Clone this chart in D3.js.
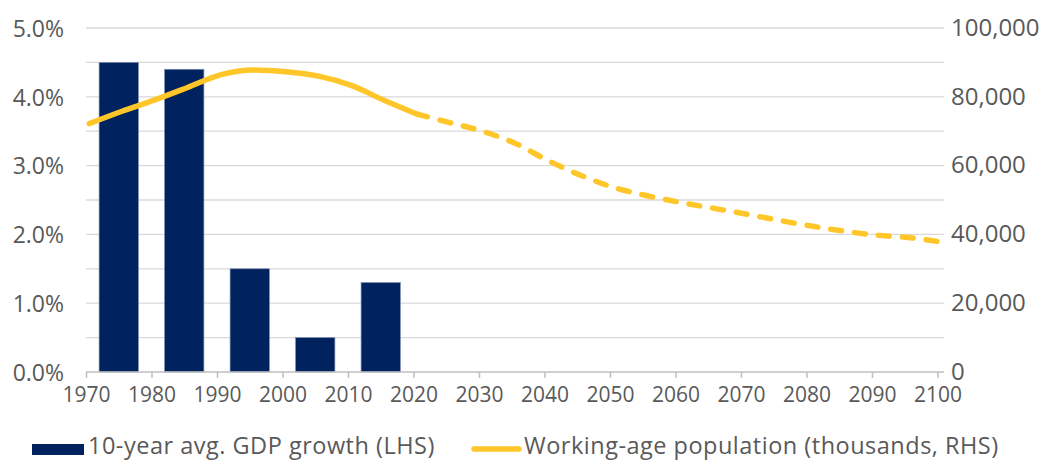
<!DOCTYPE html>
<html>
<head>
<meta charset="utf-8">
<script src="https://cdn.jsdelivr.net/npm/d3@7"></script>
<style>
  body { margin: 0; background: #fff; }
  text { font-family: "Open Sans", sans-serif; fill: #595959; }
</style>
</head>
<body>
<svg width="1051" height="462"></svg>
<script>
// decade averages of GDP growth (LHS, %)
const barYears = [1975, 1985, 1995, 2005, 2015];
const gdpGrowth = [4.5, 4.4, 1.5, 0.5, 1.3];

// working-age population, thousands (RHS); projections from 2020 on
const popYears = [1970, 1975, 1980, 1985, 1990, 1995, 2000, 2005, 2010, 2015, 2020,
  2025, 2030, 2035, 2040, 2045, 2050, 2055, 2060, 2065, 2070, 2075, 2080, 2085, 2090, 2095, 2100];
const population = [72200, 75800, 79100, 82700, 86400, 87800, 87300, 86000, 83300, 79000, 75000,
  72500, 70000, 66500, 61500, 57200, 53700, 51300, 49400, 47700, 46000, 44200, 42500, 41000, 39800, 39100, 37800];

const xTicks = d3.range(1970, 2101, 10);
const leftTicks = [0, 1, 2, 3, 4, 5];
const rightTicks = [0, 20000, 40000, 60000, 80000, 100000];
const gridTicks = d3.range(0, 5.01, 0.5);
const projectionStart = 2020;

const svg = d3.select('svg');
const plotL = 86, plotR = 944, plotT = 28, plotB = 372;

const x = d3.scaleLinear().domain([1970, 2101]).range([plotL, plotR]);
const yL = d3.scaleLinear().domain([0, 5]).range([plotB, plotT]);
const yR = d3.scaleLinear().domain([0, 100000]).range([plotB, plotT]);

// gridlines
svg.append('g')
  .selectAll('line')
  .data(gridTicks.slice(1))
  .enter().append('line')
  .attr('x1', plotL).attr('x2', plotR)
  .attr('y1', d => yL(d)).attr('y2', d => yL(d))
  .attr('stroke', '#d9d9d9')
  .attr('stroke-width', 1.3);

// bars
const barW = x(1976) - x(1970);
svg.append('g')
  .selectAll('rect')
  .data(barYears)
  .enter().append('rect')
  .attr('x', d => x(d) - barW / 2)
  .attr('width', barW)
  .attr('y', (d, i) => yL(gdpGrowth[i]))
  .attr('height', (d, i) => plotB - yL(gdpGrowth[i]))
  .attr('fill', '#00225f')
  .attr('stroke', '#7d8db0')
  .attr('stroke-width', 0.7);

// x axis
const xAxis = svg.append('g')
  .attr('transform', 'translate(0,' + plotB + ')')
  .call(d3.axisBottom(x).tickValues(xTicks).tickFormat(d3.format('d')).tickSize(6).tickPadding(6));
xAxis.select('.domain').attr('stroke', '#bfbfbf').attr('stroke-width', 1.5)
  .attr('d', 'M' + plotL + ',0H' + plotR);
xAxis.selectAll('.tick line').attr('stroke', '#bfbfbf').attr('stroke-width', 1.5);
xAxis.selectAll('.tick text').style('font-size', '21px').attr('dy', '0.88em');

// left axis
const yAxisL = svg.append('g')
  .attr('transform', 'translate(' + (plotL - 19) + ',0)')
  .call(d3.axisLeft(yL).tickValues(leftTicks).tickFormat(d => d.toFixed(1) + '%').tickSize(0));
yAxisL.select('.domain').remove();
yAxisL.selectAll('text').style('font-size', '23px').attr('dy', '0.36em');

// right axis
const yAxisR = svg.append('g')
  .attr('transform', 'translate(' + (plotR + 4) + ',0)')
  .call(d3.axisRight(yR).tickValues(rightTicks).tickFormat(d3.format(',')).tickSize(0));
yAxisR.select('.domain').remove();
yAxisR.selectAll('text').style('font-size', '24px').attr('dy', '0.3em');

// population line: solid history, dashed projection (points sit mid-year)
const pts = popYears.map((yr, i) => ({ yr: yr, v: population[i] }));
const line = d3.line()
  .x(d => x(d.yr + 0.5))
  .y(d => yR(d.v))
  .curve(d3.curveMonotoneX);

svg.append('path')
  .datum(pts.filter(d => d.yr <= projectionStart))
  .attr('d', line)
  .attr('fill', 'none')
  .attr('stroke', '#ffc629')
  .attr('stroke-width', 5.5)
  .attr('stroke-linecap', 'round');

svg.append('path')
  .datum(pts.filter(d => d.yr >= projectionStart))
  .attr('d', line)
  .attr('fill', 'none')
  .attr('stroke', '#ffc629')
  .attr('stroke-width', 5.5)
  .attr('stroke-linecap', 'round')
  .attr('stroke-dasharray', '11 13');

// legend
const legend = svg.append('g');
legend.append('rect')
  .attr('x', 32).attr('y', 444).attr('width', 52).attr('height', 11)
  .attr('fill', '#00225f');
legend.append('text')
  .attr('x', 88).attr('y', 454)
  .style('font-size', '23.5px')
  .style('letter-spacing', '0.5px')
  .text('10-year avg. GDP growth (LHS)');
legend.append('line')
  .attr('x1', 474).attr('x2', 519).attr('y1', 449).attr('y2', 449)
  .attr('stroke', '#ffc629').attr('stroke-width', 5.5).attr('stroke-linecap', 'round');
legend.append('text')
  .attr('x', 524).attr('y', 454)
  .style('font-size', '23.5px')
  .style('letter-spacing', '0.5px')
  .text('Working-age population (thousands, RHS)');
</script>
</body>
</html>
